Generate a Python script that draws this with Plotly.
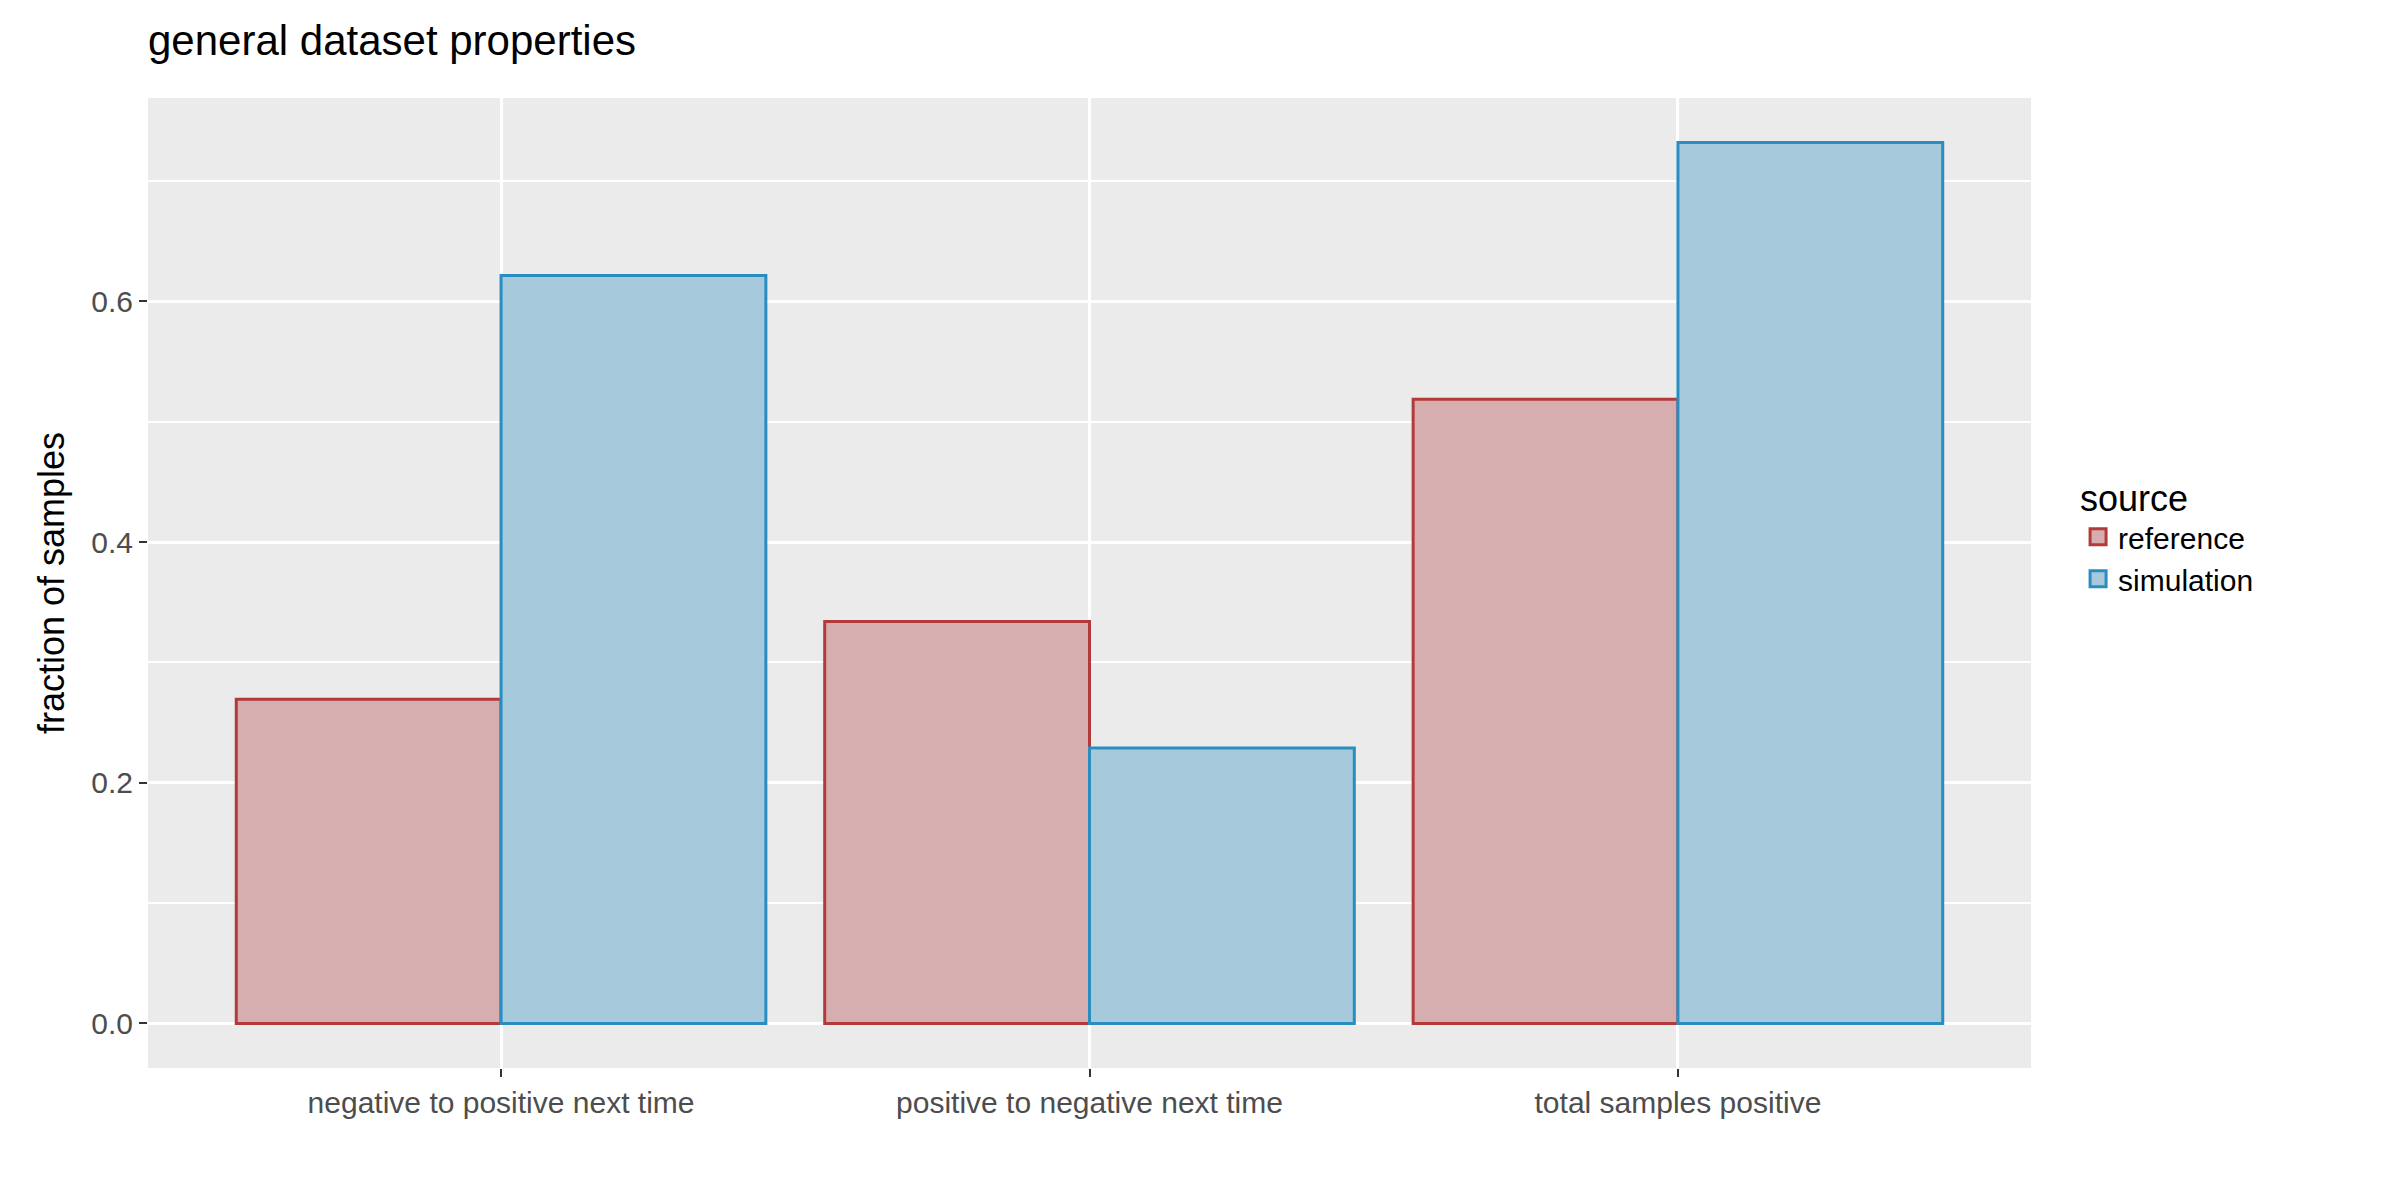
import plotly.graph_objects as go

# categories and values
categories = ["negative to positive next time", "positive to negative next time", "total samples positive"]
reference_vals = [0.2695, 0.334, 0.5186]
simulation_vals = [0.6216, 0.229, 0.732]

ref_fill, ref_line = "#D6AEAF", "#B23A3A"
sim_fill, sim_line = "#A6CADC", "#2A8DC0"

fig = go.Figure()
fig.add_trace(go.Bar(x=categories, y=reference_vals, name="reference", showlegend=False,
                     marker=dict(color=ref_fill, line=dict(color=ref_line, width=3))))
fig.add_trace(go.Bar(x=categories, y=simulation_vals, name="simulation", showlegend=False,
                     marker=dict(color=sim_fill, line=dict(color=sim_line, width=3))))
# bigger legend keys, like ggplot's
for name, fill, line in [("reference", ref_fill, ref_line), ("simulation", sim_fill, sim_line)]:
    fig.add_trace(go.Scatter(x=[None], y=[None], mode="markers", name=name,
                             marker=dict(symbol="square", size=38, color=fill,
                                         line=dict(color=line, width=3))))

fig.update_layout(
    width=2400, height=1200,
    barmode="group", bargap=0.1, bargroupgap=0,
    paper_bgcolor="white", plot_bgcolor="#EBEBEB",
    font=dict(family="Liberation Sans, Arial", color="#4D4D4D", size=28),
    title=dict(text="general dataset properties", x=0, xref="paper", y=0.985, yanchor="top",
               font=dict(size=42, color="black")),
    margin=dict(l=140, r=377, t=90, b=140),
    legend=dict(title=dict(text="source", font=dict(size=36, color="black")),
                x=1.025, y=0.55, yanchor="middle", font=dict(size=30, color="black"),
                bgcolor="rgba(0,0,0,0)", tracegroupgap=0, itemsizing="trace"),
    xaxis=dict(range=[-0.6, 2.6], showgrid=True, gridcolor="white", gridwidth=3, ticks="outside",
               ticklen=8, tickcolor="#333333", tickwidth=2, tickfont=dict(size=30)),
    yaxis=dict(range=[-0.037, 0.769], tickvals=[0, 0.2, 0.4, 0.6],
               ticktext=["0.0", "0.2", "0.4", "0.6"], gridcolor="white", gridwidth=3,
               minor=dict(tickvals=[0.1, 0.3, 0.5, 0.7], showgrid=True, gridcolor="white", gridwidth=1.5),
               zeroline=False, ticks="outside", ticklen=8, tickcolor="#333333", tickwidth=2,
               tickfont=dict(size=30),
               title=dict(text="fraction of samples", font=dict(size=36, color="black"), standoff=15)),
)
fig.write_html("out.html")
